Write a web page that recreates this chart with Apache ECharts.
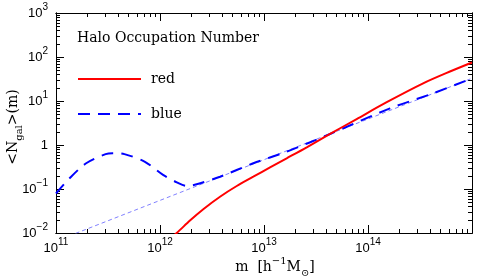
<!DOCTYPE html>
<html><head><meta charset="utf-8">
<script src="https://cdn.jsdelivr.net/npm/echarts@6/dist/echarts.min.js"></script>
<style>html,body{margin:0;padding:0;background:#fff}#c{width:491px;height:277px}</style>
</head><body><div id="c"></div>
<script>
// ---- data ----
const xMajor = [1e11, 1e12, 1e13, 1e14, 1e15];
const xTickExp = ['11', '12', '13', '14', '15'];
const yMajor = [1e-2, 1e-1, 1, 1e1, 1e2, 1e3];
const yTickBase = ['10', '10', '1', '10', '10', '10'];
const yTickExp = ['\u22122', '\u22121', '', '1', '2', '3'];

const redMass = [1.259e12, 1.449e12, 1.941e12, 2.606e12, 3.776e12, 5.47e12, 7.89e12, 1.143e13, 1.652e13, 2.576e13, 4.315e13, 7.78e13, 1.514e14, 3.39e14, 6.31e14, 1e15];
const redN    = [0.0077, 0.0100, 0.0192, 0.0348, 0.0668, 0.117, 0.19, 0.311, 0.499, 0.887, 1.78, 3.89, 9.4, 25.2, 48, 75];

const blueMass = [1e11, 1.35e11, 1.95e11, 3.0e11, 3.5e11, 4.55e11, 7.1e11, 1.07e12, 1.449e12, 1.81e12, 2.25e12, 3.78e12, 7.89e12, 1.652e13, 4.315e13, 1.63e14, 4.25e14, 1e15];
const blueN    = [0.079, 0.175, 0.384, 0.62, 0.65, 0.62, 0.42, 0.209, 0.142, 0.117, 0.128, 0.19, 0.384, 0.705, 1.78, 6.8, 15, 32.8];

const powMass = [1e11, 1e15];
const powN    = [0.00655, 32.8];

const pairs = (a, b) => a.map((v, i) => [v, b[i]]);
function minors(lo, hi) {
  const out = [];
  for (let e = lo; e < hi; e++) for (let k = 2; k <= 9; k++) out.push(+(k * Math.pow(10, e)).toPrecision(3));
  return out;
}
const xMinor = minors(11, 15);
const yMinor = minors(-2, 3);

const tickFont = "'Liberation Sans Narrow', 'Liberation Sans', sans-serif";
const serif = "'DejaVu Serif', serif";
const rich = {
  b: { fontFamily: tickFont, fontSize: 13, color: '#000', lineHeight: 22, verticalAlign: 'middle' },
  s: { fontFamily: tickFont, fontSize: 10, color: '#000', lineHeight: 10, verticalAlign: 'top' }
};
function idxOf(arr, v) {
  let best = 0, bd = Infinity;
  arr.forEach((a, i) => { const d = Math.abs(Math.log10(a) - Math.log10(v)); if (d < bd) { bd = d; best = i; } });
  return best;
}
const black = { color: '#000', width: 1 };

function axis(dim, pos, vals, len, label) {
  const o = {
    type: 'log', logBase: 10, position: pos,
    min: dim === 'x' ? 1e11 : 1e-2, max: dim === 'x' ? 1e15 : 1e3,
    axisLine: { show: true, onZero: false, lineStyle: black },
    axisTick: { show: true, inside: true, length: len, customValues: vals, lineStyle: black },
    axisLabel: { show: false },
    splitLine: { show: false }, minorTick: { show: false }
  };
  if (label) {
    o.axisLabel = {
      show: true, customValues: vals, rich: rich,
      margin: dim === 'x' ? 4 : 8,
      formatter: dim === 'x'
        ? (v) => '{b|10}{s|' + xTickExp[idxOf(xMajor, v)] + '}'
        : (v) => { const i = idxOf(yMajor, v); return yTickExp[i] ? '{b|' + yTickBase[i] + '}{s|' + yTickExp[i] + '}' : '{b|' + yTickBase[i] + '}'; }
    };
  }
  return o;
}

const chart = echarts.init(document.getElementById('c'), null, { renderer: 'canvas' });
chart.setOption({
  animation: false,
  backgroundColor: '#fff',
  grid: { left: 56, right: 19, top: 13, bottom: 44, containLabel: false },
  xAxis: [
    axis('x', 'bottom', xMajor, 8, true),
    axis('x', 'bottom', xMinor, 4, false),
    axis('x', 'top', xMajor, 8, false),
    axis('x', 'top', xMinor, 4, false)
  ],
  yAxis: [
    axis('y', 'left', yMajor, 8, true),
    axis('y', 'left', yMinor, 4, false),
    axis('y', 'right', yMajor, 8, false),
    axis('y', 'right', yMinor, 4, false)
  ],
  title: {
    text: 'Halo Occupation Number', left: 77, top: 31, padding: 0,
    textStyle: { fontFamily: serif, fontSize: 14, fontWeight: 'normal', color: '#000' }
  },
  legend: {
    data: ['red', 'blue'], orient: 'vertical', left: 77, top: 72, padding: 0,
    itemWidth: 63, itemHeight: 14, itemGap: 21,
    itemStyle: { opacity: 0, color: 'rgba(0,0,0,0)', borderWidth: 0 },
    textStyle: { fontFamily: serif, fontSize: 14, color: '#000', padding: [0, 0, 0, 5] }
  },
  graphic: [
    {
      type: 'text', x: 275, y: 267,
      style: {
        text: '{t|m  [h}{p|\u22121}{t|M}{d|\u2299}{t|]}',
        align: 'center', verticalAlign: 'middle',
        rich: {
          t: { fontFamily: serif, fontSize: 14, color: '#000', lineHeight: 22, verticalAlign: 'middle' },
          p: { fontFamily: serif, fontSize: 10, color: '#000', lineHeight: 10, verticalAlign: 'top' },
          d: { fontFamily: serif, fontSize: 10, color: '#000', lineHeight: 10, verticalAlign: 'bottom' }
        }
      }
    },
    {
      type: 'text', x: 13, y: 127, rotation: Math.PI / 2,
      style: {
        text: '{t|<N}{d|gal}{t|>(m)}',
        align: 'center', verticalAlign: 'middle',
        rich: {
          t: { fontFamily: serif, fontSize: 14, color: '#000', lineHeight: 22, verticalAlign: 'middle' },
          d: { fontFamily: serif, fontSize: 10, color: '#000', lineHeight: 10, verticalAlign: 'bottom' }
        }
      }
    }
  ],
  series: [
    {
      name: 'power', type: 'line', xAxisIndex: 0, yAxisIndex: 0, data: pairs(powMass, powN),
      symbol: 'none', clip: true, silent: true,
      lineStyle: { color: '#8080ff', width: 1, type: [4, 3] }
    },
    {
      name: 'blue', type: 'line', xAxisIndex: 0, yAxisIndex: 0, data: pairs(blueMass, blueN),
      symbol: 'none', clip: true, smooth: 0.3,
      itemStyle: { color: '#0000ff' },
      lineStyle: { color: '#0000ff', width: 2, type: [12, 8] }
    },
    {
      name: 'red', type: 'line', xAxisIndex: 0, yAxisIndex: 0, data: pairs(redMass, redN),
      symbol: 'none', clip: true, smooth: 0.3,
      itemStyle: { color: '#ff0000' },
      lineStyle: { color: '#ff0000', width: 2 }
    }
  ]
});
</script></body></html>
